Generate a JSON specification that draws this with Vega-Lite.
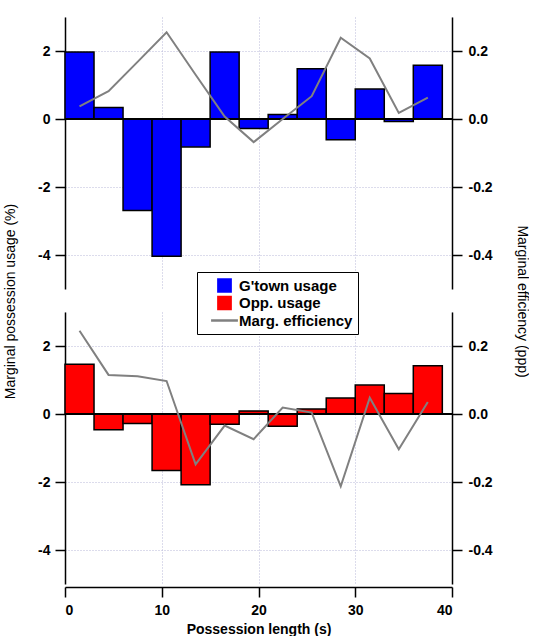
{
  "$schema": "https://vega.github.io/schema/vega-lite/v6.json",
  "padding": {"left": 3, "top": 17, "right": 0, "bottom": 0},
  "background": "white",
  "bounds": "flush",
  "config": {
    "view": {"stroke": null},
    "font": "Liberation Sans",
    "axis": {
      "labelFont": "Liberation Sans",
      "labelFontSize": 14,
      "labelFontWeight": "bold",
      "labelColor": "black",
      "titleFont": "Liberation Sans",
      "titleFontSize": 14,
      "titleFontWeight": "normal",
      "titleColor": "black",
      "domainColor": "black",
      "domainWidth": 1.5,
      "tickColor": "black",
      "tickWidth": 1.5,
      "gridColor": "#b8b8d8",
      "gridDash": [1, 2],
      "gridWidth": 1
    }
  },
  "datasets": {
    "top": [
      {"x0": 0, "x1": 3, "xm": 1.5, "usage": 1.97, "eff": 0.037},
      {"x0": 3, "x1": 6, "xm": 4.5, "usage": 0.34, "eff": 0.082},
      {"x0": 6, "x1": 9, "xm": 7.5, "usage": -2.69, "eff": 0.168},
      {"x0": 9, "x1": 12, "xm": 10.5, "usage": -4.04, "eff": 0.255},
      {"x0": 12, "x1": 15, "xm": 13.5, "usage": -0.82, "eff": 0.13},
      {"x0": 15, "x1": 18, "xm": 16.5, "usage": 1.97, "eff": 0.007},
      {"x0": 18, "x1": 21, "xm": 19.5, "usage": -0.28, "eff": -0.068},
      {"x0": 21, "x1": 24, "xm": 22.5, "usage": 0.13, "eff": 0.0},
      {"x0": 24, "x1": 27, "xm": 25.5, "usage": 1.48, "eff": 0.067},
      {"x0": 27, "x1": 30, "xm": 28.5, "usage": -0.61, "eff": 0.239},
      {"x0": 30, "x1": 33, "xm": 31.5, "usage": 0.88, "eff": 0.178},
      {"x0": 33, "x1": 36, "xm": 34.5, "usage": -0.07, "eff": 0.018},
      {"x0": 36, "x1": 39, "xm": 37.5, "usage": 1.58, "eff": 0.063}
    ],
    "bottom": [
      {"x0": 0, "x1": 3, "xm": 1.5, "usage": 1.46, "eff": 0.245},
      {"x0": 3, "x1": 6, "xm": 4.5, "usage": -0.46, "eff": 0.115},
      {"x0": 6, "x1": 9, "xm": 7.5, "usage": -0.28, "eff": 0.111},
      {"x0": 9, "x1": 12, "xm": 10.5, "usage": -1.66, "eff": 0.097},
      {"x0": 12, "x1": 15, "xm": 13.5, "usage": -2.08, "eff": -0.148},
      {"x0": 15, "x1": 18, "xm": 16.5, "usage": -0.3, "eff": -0.034},
      {"x0": 18, "x1": 21, "xm": 19.5, "usage": 0.09, "eff": -0.074},
      {"x0": 21, "x1": 24, "xm": 22.5, "usage": -0.36, "eff": 0.019},
      {"x0": 24, "x1": 27, "xm": 25.5, "usage": 0.15, "eff": 0.004},
      {"x0": 27, "x1": 30, "xm": 28.5, "usage": 0.47, "eff": -0.213},
      {"x0": 30, "x1": 33, "xm": 31.5, "usage": 0.85, "eff": 0.048},
      {"x0": 33, "x1": 36, "xm": 34.5, "usage": 0.6, "eff": -0.104},
      {"x0": 36, "x1": 39, "xm": 37.5, "usage": 1.42, "eff": 0.035}
    ]
  },
  "spacing": 23,
  "resolve": {"scale": {"color": "shared"}, "legend": {"color": "shared"}},
  "vconcat": [
    {
      "width": 387,
      "height": 272,
      "data": {"name": "top"},
      "layer": [
        {
          "layer": [
            {
              "mark": {"type": "bar", "stroke": "black", "strokeWidth": 1.5},
              "encoding": {
                "x": {"field": "x0", "type": "quantitative", "scale": {"domain": [0, 40], "nice": false},
                  "axis": {"values": [0, 10, 20, 30, 40], "labels": false, "ticks": false, "domain": false, "grid": true, "title": null}},
                "x2": {"field": "x1"},
                "y": {"field": "usage", "type": "quantitative", "scale": {"domain": [-5, 3], "nice": false},
                  "axis": {"values": [2, 0, -2, -4], "grid": true, "tickSize": 10, "labelPadding": 5, "labelExpr": "replace(format(datum.value, 'd'), '\u2212', '-')",
                    "title": "Marginal possession usage (%)", "titleY": 284, "titlePadding": 20}},
                "y2": {"datum": 0},
                "color": {"datum": "G'town usage", "type": "nominal",
                  "scale": {"domain": ["G'town usage", "Opp. usage", "Marg. efficiency"], "range": ["#0000ff", "#ff0000", "#808080"]},
                  "legend": {
                    "orient": "none", "legendX": 132, "legendY": 255, "title": null,
                    "strokeColor": "black", "fillColor": "white", "padding": 5,
                    "labelFont": "Liberation Sans", "labelFontSize": 15, "labelFontWeight": "bold", "labelColor": "black",
                    "rowPadding": 0.5, "clipHeight": 17, "labelOffset": 7, "symbolOffset": 15, "symbolSize": 200, "symbolType": "square",
                    "encoding": {
                      "symbols": {
                        "shape": {"value": {"expr": "datum.value === 'Marg. efficiency' ? 'stroke' : 'square'"}},
                        "size": {"value": {"expr": "datum.value === 'Marg. efficiency' ? 720 : 150"}},
                        "strokeWidth": {"value": 2.5},
                        "stroke": {"value": {"expr": "datum.value === 'Marg. efficiency' ? '#808080' : 'transparent'"}},
                        "fill": {"value": {"expr": "datum.value === 'Marg. efficiency' ? 'transparent' : (datum.value === 'Opp. usage' ? '#ff0000' : '#0000ff')"}},
                        "opacity": {"value": 1}
                      }
                    }
                  }}
              }
            },
            {
              "mark": {"type": "rule", "color": "black", "strokeWidth": 2},
              "encoding": {"y": {"datum": 0, "type": "quantitative"}}
            }
          ]
        },
        {
          "mark": {"type": "line", "strokeWidth": 2},
          "encoding": {
            "x": {"field": "xm", "type": "quantitative", "scale": {"domain": [0, 40], "nice": false},
              "axis": {"values": [0, 10, 20, 30, 40], "labels": false, "ticks": false, "domain": false, "grid": true, "title": null}},
            "y": {"field": "eff", "type": "quantitative", "scale": {"domain": [-0.5, 0.3], "nice": false},
              "axis": {"orient": "right", "values": [0.2, 0, -0.2, -0.4], "grid": false, "tickSize": 10, "labelPadding": 6,
                "labelExpr": "replace(format(datum.value, '.1f'), '\u2212', '-')",
                "title": "Marginal efficiency (ppp)", "titleY": 284, "titlePadding": 22}},
            "color": {"datum": "Marg. efficiency", "type": "nominal"}
          }
        }
      ],
      "resolve": {"scale": {"y": "independent"}}
    },
    {
      "width": 387,
      "height": 272,
      "data": {"name": "bottom"},
      "layer": [
        {
          "layer": [
            {
              "mark": {"type": "bar", "stroke": "black", "strokeWidth": 1.5},
              "encoding": {
                "x": {"field": "x0", "type": "quantitative", "scale": {"domain": [0, 40], "nice": false},
                  "axis": {"values": [0, 10, 20, 30, 40], "grid": true, "tickSize": 10, "labelPadding": 6, "offset": 3,
                    "title": "Possession length (s)", "titleFontWeight": "bold", "titlePadding": 5}},
                "x2": {"field": "x1"},
                "y": {"field": "usage", "type": "quantitative", "scale": {"domain": [-5, 3], "nice": false},
                  "axis": {"values": [2, 0, -2, -4], "grid": true, "tickSize": 10, "labelPadding": 5, "labelExpr": "replace(format(datum.value, 'd'), '\u2212', '-')", "title": null}},
                "y2": {"datum": 0},
                "color": {"datum": "Opp. usage", "type": "nominal"}
              }
            },
            {
              "mark": {"type": "rule", "color": "black", "strokeWidth": 2},
              "encoding": {"y": {"datum": 0, "type": "quantitative"}}
            }
          ]
        },
        {
          "mark": {"type": "line", "strokeWidth": 2},
          "encoding": {
            "x": {"field": "xm", "type": "quantitative", "scale": {"domain": [0, 40], "nice": false},
              "axis": {"values": [0, 10, 20, 30, 40], "grid": true, "tickSize": 10, "labelPadding": 6, "offset": 3,
                "title": "Possession length (s)", "titleFontWeight": "bold", "titlePadding": 5}},
            "y": {"field": "eff", "type": "quantitative", "scale": {"domain": [-0.5, 0.3], "nice": false},
              "axis": {"orient": "right", "values": [0.2, 0, -0.2, -0.4], "grid": false, "tickSize": 10, "labelPadding": 6,
                "labelExpr": "replace(format(datum.value, '.1f'), '\u2212', '-')", "title": null}},
            "color": {"datum": "Marg. efficiency", "type": "nominal"}
          }
        }
      ],
      "resolve": {"scale": {"y": "independent"}}
    }
  ]
}
